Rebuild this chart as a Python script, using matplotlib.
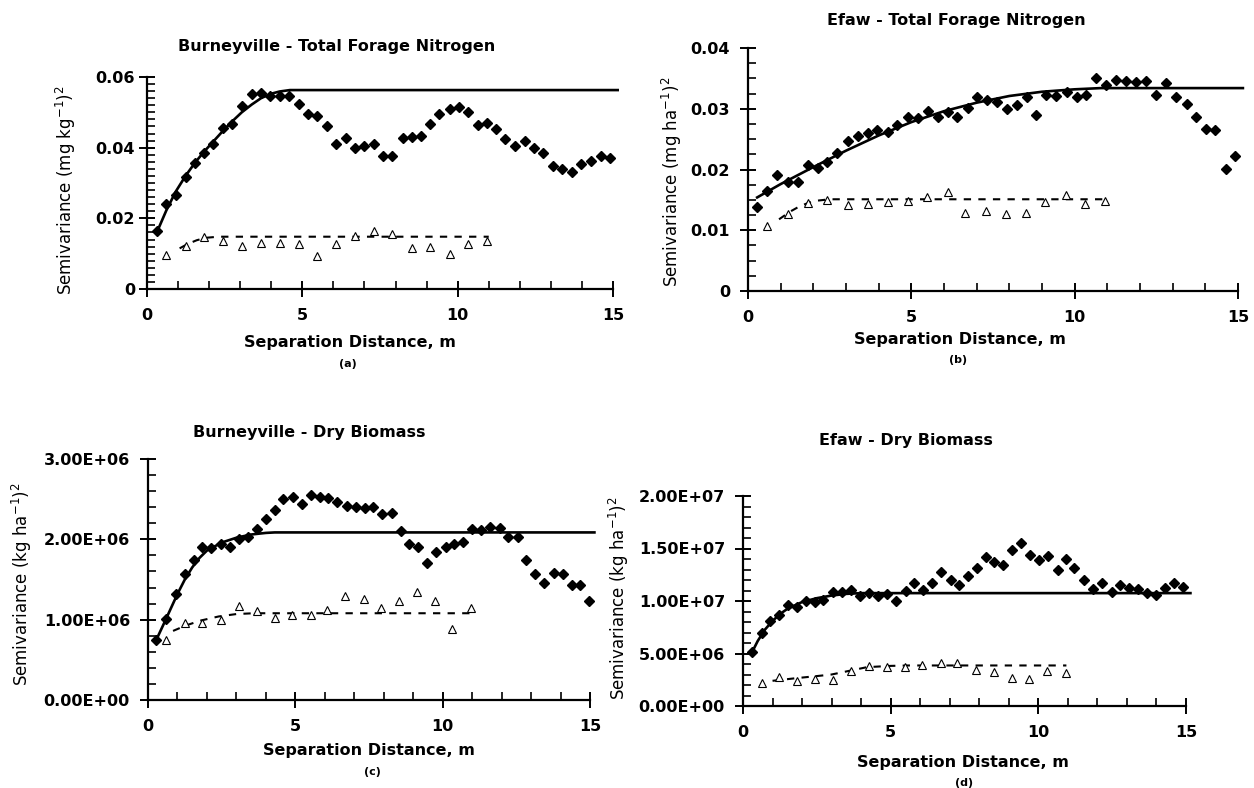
import matplotlib
matplotlib.use('Agg')
import matplotlib.pyplot as plt
import numpy as np
from matplotlib.ticker import MultipleLocator, FixedLocator, FormatStrFormatter, FuncFormatter

plt.rcParams['font.family'] = ['DejaVu Sans']
plt.rcParams['mathtext.fontset'] = 'dejavusans'

# ---- (a) Burneyville - Total Forage Nitrogen ----
a_lag = [0.33, 0.62, 0.92, 1.24, 1.55, 1.83, 2.14, 2.44, 2.75, 3.05, 3.37, 3.67, 3.97,
         4.27, 4.57, 4.89, 5.19, 5.48, 5.78, 6.09, 6.40, 6.68, 7.00, 7.31, 7.60, 7.89,
         8.23, 8.53, 8.82, 9.12, 9.41, 9.74, 10.03, 10.33, 10.64, 10.94, 11.23, 11.53,
         11.86, 12.16, 12.45, 12.75, 13.07, 13.37, 13.68, 13.98, 14.29, 14.60, 14.90]
a_semi = [0.0163, 0.0241, 0.0266, 0.0316, 0.0357, 0.0386, 0.0410, 0.0456, 0.0466, 0.0517,
          0.0551, 0.0554, 0.0546, 0.0547, 0.0547, 0.0524, 0.0494, 0.0489, 0.0462, 0.0409,
          0.0428, 0.0400, 0.0404, 0.0409, 0.0377, 0.0377, 0.0428, 0.0431, 0.0432, 0.0467,
          0.0495, 0.0510, 0.0515, 0.0502, 0.0465, 0.0469, 0.0453, 0.0424, 0.0406, 0.0420,
          0.0400, 0.0384, 0.0349, 0.0341, 0.0331, 0.0355, 0.0363, 0.0377, 0.0372]
a_tri_lag = [0.62, 1.24, 1.83, 2.44, 3.05, 3.67, 4.27, 4.89, 5.48, 6.09, 6.68, 7.31, 7.89,
             8.53, 9.12, 9.74, 10.33, 10.94]
a_tri = [0.0096, 0.0123, 0.0147, 0.0135, 0.0123, 0.0130, 0.0130, 0.0127, 0.0092, 0.0127,
         0.0151, 0.0165, 0.0155, 0.0115, 0.0120, 0.0098, 0.0126, 0.0135]
a_fit_x = [0.33, 0.62, 0.92, 1.24, 1.55, 1.83, 2.14, 2.44, 2.75, 3.05, 3.37, 3.67, 3.97,
           4.27, 4.6, 15.15]
a_fit_y = [0.0163, 0.0222, 0.0275, 0.0320, 0.0358, 0.0388, 0.0418, 0.0447, 0.0475, 0.0500,
           0.0522, 0.0540, 0.0552, 0.0559, 0.0563, 0.0563]
a_dash_x = [1.05, 1.3, 1.6, 1.9, 2.3, 11.0]
a_dash_y = [0.0115, 0.0127, 0.0138, 0.0145, 0.0148, 0.0148]

# ---- (b) Efaw - Total Forage Nitrogen ----
b_lag = [0.28, 0.57, 0.89, 1.22, 1.53, 1.83, 2.13, 2.43, 2.73, 3.05, 3.37, 3.66, 3.96,
         4.28, 4.57, 4.89, 5.19, 5.51, 5.81, 6.11, 6.41, 6.72, 7.01, 7.32, 7.63, 7.93,
         8.23, 8.53, 8.83, 9.13, 9.44, 9.76, 10.06, 10.36, 10.66, 10.96, 11.26, 11.58,
         11.88, 12.19, 12.49, 12.79, 13.09, 13.43, 13.72, 14.01, 14.31, 14.62, 14.92]
b_semi = [0.0139, 0.0164, 0.0191, 0.0180, 0.0179, 0.0207, 0.0202, 0.0212, 0.0227, 0.0247,
          0.0255, 0.0260, 0.0265, 0.0262, 0.0273, 0.0287, 0.0284, 0.0297, 0.0287, 0.0295,
          0.0287, 0.0301, 0.0319, 0.0315, 0.0311, 0.0300, 0.0306, 0.0319, 0.0290, 0.0322,
          0.0321, 0.0327, 0.0319, 0.0323, 0.0350, 0.0339, 0.0347, 0.0346, 0.0344, 0.0346,
          0.0323, 0.0342, 0.0319, 0.0307, 0.0287, 0.0267, 0.0265, 0.0201, 0.0222]
b_tri_lag = [0.57, 1.21, 1.83, 2.43, 3.05, 3.66, 4.28, 4.89, 5.48, 6.11, 6.65, 7.29, 7.90,
             8.50, 9.10, 9.72, 10.32, 10.92]
b_tri = [0.0107, 0.0126, 0.0145, 0.0150, 0.0141, 0.0144, 0.0146, 0.0148, 0.0154, 0.0163,
         0.0129, 0.0131, 0.0127, 0.0129, 0.0146, 0.0158, 0.0144, 0.0148]
b_fit_x = [0.28, 1.0, 2.0, 3.0, 4.0, 5.0, 6.0, 7.0, 8.0, 9.0, 10.0, 10.8, 15.15]
b_fit_y = [0.0154, 0.0176, 0.0204, 0.0231, 0.0256, 0.0278, 0.0296, 0.0310, 0.0321, 0.0328,
           0.0332, 0.0334, 0.0334]
b_dash_x = [0.95, 1.3, 1.6, 2.0, 2.5, 10.95]
b_dash_y = [0.0118, 0.0131, 0.0140, 0.0148, 0.0151, 0.0151]

# ---- (c) Burneyville - Dry Biomass (values in 1E+06) ----
c_lag = [0.28, 0.61, 0.94, 1.25, 1.57, 1.84, 2.15, 2.47, 2.77, 3.09, 3.40, 3.69, 4.02,
         4.31, 4.59, 4.92, 5.23, 5.52, 5.84, 6.12, 6.42, 6.74, 7.05, 7.36, 7.64, 7.95,
         8.27, 8.60, 8.85, 9.17, 9.47, 9.78, 10.10, 10.37, 10.69, 11.00, 11.30, 11.62,
         11.93, 12.22, 12.55, 12.84, 13.15, 13.45, 13.77, 14.08, 14.40, 14.67, 14.98]
c_semi_M = [0.747, 1.005, 1.314, 1.573, 1.748, 1.907, 1.894, 1.936, 1.907, 1.998, 2.032,
            2.124, 2.257, 2.365, 2.499, 2.532, 2.436, 2.553, 2.532, 2.511, 2.469, 2.415,
            2.407, 2.394, 2.407, 2.311, 2.324, 2.103, 1.940, 1.907, 1.710, 1.844, 1.907,
            1.936, 1.969, 2.132, 2.115, 2.157, 2.136, 2.032, 2.032, 1.748, 1.573, 1.456,
            1.586, 1.564, 1.435, 1.435, 1.227]
c_tri_lag = [0.61, 1.25, 1.84, 2.47, 3.09, 3.69, 4.30, 4.88, 5.52, 6.07, 6.70, 7.32, 7.91,
             8.53, 9.14, 9.74, 10.33, 10.97]
c_tri_M = [0.751, 0.955, 0.955, 0.997, 1.168, 1.106, 1.022, 1.060, 1.060, 1.122, 1.289,
           1.252, 1.147, 1.227, 1.343, 1.227, 0.884, 1.143]
c_fit_x = [0.28, 0.5, 0.75, 1.0, 1.25, 1.5, 1.75, 2.0, 2.5, 3.0, 3.5, 4.0, 4.3, 15.15]
c_fit_M = [0.747, 0.92, 1.12, 1.32, 1.50, 1.65, 1.77, 1.86, 1.96, 2.02, 2.06, 2.08, 2.086, 2.086]
c_dash_x = [0.85, 1.3, 1.8, 2.4, 3.0, 3.6, 10.95]
c_dash_M = [0.86, 0.93, 0.99, 1.04, 1.07, 1.08, 1.08]

# ---- (d) Efaw - Dry Biomass (values in 1E+06) ----
d_lag = [0.31, 0.64, 0.93, 1.21, 1.54, 1.83, 2.12, 2.44, 2.72, 3.04, 3.36, 3.67, 3.96,
         4.28, 4.58, 4.87, 5.19, 5.51, 5.79, 6.10, 6.39, 6.69, 7.03, 7.33, 7.61, 7.93,
         8.22, 8.51, 8.82, 9.12, 9.42, 9.72, 10.03, 10.33, 10.65, 10.94, 11.22, 11.55,
         11.86, 12.15, 12.48, 12.78, 13.07, 13.39, 13.69, 13.98, 14.29, 14.61, 14.89]
d_semi_M = [5.14, 6.97, 8.06, 8.67, 9.66, 9.47, 10.02, 9.92, 10.11, 10.85, 10.82, 11.08,
            10.43, 10.75, 10.43, 10.69, 9.98, 10.98, 11.69, 11.04, 11.69, 12.78, 12.04,
            11.52, 12.36, 13.10, 14.19, 13.68, 13.45, 14.86, 15.57, 14.41, 13.93, 14.32,
            13.00, 14.03, 13.19, 11.97, 11.11, 11.69, 10.88, 11.49, 11.20, 11.11, 10.75,
            10.53, 11.20, 11.72, 11.33]
d_tri_lag = [0.64, 1.21, 1.83, 2.44, 3.04, 3.67, 4.28, 4.87, 5.48, 6.07, 6.69, 7.26, 7.88,
             8.50, 9.10, 9.69, 10.29, 10.92]
d_tri_M = [2.18, 2.79, 2.41, 2.57, 2.47, 3.37, 3.82, 3.69, 3.69, 3.95, 4.08, 4.08, 3.43,
           3.21, 2.67, 2.54, 3.31, 3.18]
d_fit_x = [0.31, 0.5, 0.75, 1.0, 1.25, 1.5, 2.0, 2.5, 3.0, 3.5, 4.0, 15.15]
d_fit_M = [5.14, 6.2, 7.3, 8.1, 8.75, 9.25, 9.9, 10.27, 10.52, 10.68, 10.75, 10.75]
d_dash_x = [1.0, 1.8, 2.5, 3.0, 3.6, 4.2, 5.0, 5.6, 10.95]
d_dash_M = [2.4, 2.65, 2.85, 3.0, 3.35, 3.7, 3.82, 3.86, 3.86]

MEGA = 1e6

W, H = 1254, 788
fig = plt.figure(figsize=(W / 100, H / 100), dpi=100)


def make_axes(x0, x15, y0, ytop):
    # pixel positions of x=0, x=15, y=0 and y=top
    right = x0 + 15.2 * (x15 - x0) / 15.0
    return fig.add_axes([x0 / W, 1 - y0 / H, (right - x0) / W, (y0 - ytop) / H])


def style(ax, ymax, ymajor, yminor, yfmt, ypad):
    ax.set_xlim(0, 15.2)
    ax.set_ylim(0, ymax)
    for s in ['top', 'right']:
        ax.spines[s].set_visible(False)
    for s in ['left', 'bottom']:
        ax.spines[s].set_linewidth(1.6)
    ax.spines['bottom'].set_bounds(0, 15)
    ax.xaxis.set_major_locator(FixedLocator([0, 5, 10, 15]))
    ax.xaxis.set_minor_locator(MultipleLocator(1))
    ax.yaxis.set_major_locator(MultipleLocator(ymajor))
    ax.yaxis.set_minor_locator(MultipleLocator(yminor))
    ax.yaxis.set_major_formatter(yfmt)
    ax.tick_params(axis='both', which='major', direction='inout', length=11, width=1.4,
                   labelsize=11.5)
    ax.tick_params(axis='both', which='minor', direction='in', length=6, width=1.2)
    ax.tick_params(axis='x', which='major', pad=8)
    ax.tick_params(axis='y', which='major', pad=ypad)
    for lab in ax.get_xticklabels() + ax.get_yticklabels():
        lab.set_fontweight('bold')
    ax.patch.set_visible(False)


def draw(ax, lag, semi, tlag, tri, fx, fy, dx, dy):
    ax.plot(fx, fy, color='black', lw=1.9, clip_on=False, zorder=2)
    ax.plot(dx, dy, color='black', lw=1.5, linestyle=(0, (3.5, 3.5)), zorder=2)
    ax.plot(lag, semi, linestyle='none', marker='D', ms=4.6, color='black', zorder=3)
    ax.plot(tlag, tri, linestyle='none', marker='^', ms=6.2, mfc='white', mec='black',
            mew=0.8, zorder=3)


def num_fmt(v, pos):
    return '0' if v == 0 else '%.2f' % v


ax_a = make_axes(147, 613, 289, 77)
style(ax_a, 0.06, 0.02, 0.002, FuncFormatter(num_fmt), 3)
draw(ax_a, a_lag, a_semi, a_tri_lag, a_tri, a_fit_x, a_fit_y, a_dash_x, a_dash_y)

ax_b = make_axes(748, 1238, 291, 48)
style(ax_b, 0.04, 0.01, 0.0025, FuncFormatter(num_fmt), 7.5)
draw(ax_b, b_lag, b_semi, b_tri_lag, b_tri, b_fit_x, b_fit_y, b_dash_x, b_dash_y)

ax_c = make_axes(148, 590, 700, 459)
style(ax_c, 3e6, 1e6, 2e5, FormatStrFormatter('%.2E'), 7.5)
draw(ax_c, c_lag, np.array(c_semi_M) * MEGA, c_tri_lag, np.array(c_tri_M) * MEGA,
     c_fit_x, np.array(c_fit_M) * MEGA, c_dash_x, np.array(c_dash_M) * MEGA)

ax_d = make_axes(743, 1186, 706, 496)
style(ax_d, 2e7, 5e6, 1e6, FormatStrFormatter('%.2E'), 7.5)
draw(ax_d, d_lag, np.array(d_semi_M) * MEGA, d_tri_lag, np.array(d_tri_M) * MEGA,
     d_fit_x, np.array(d_fit_M) * MEGA, d_dash_x, np.array(d_dash_M) * MEGA)


def ftext(x, y, s, **kw):
    fig.text(x / W, 1 - y / H, s, ha='center', va='center', **kw)


# titles
ftext(337, 47, 'Burneyville - Total Forage Nitrogen', fontsize=11.5, fontweight='bold')
ftext(956, 21, 'Efaw - Total Forage Nitrogen', fontsize=11.5, fontweight='bold')
ftext(309, 432, 'Burneyville - Dry Biomass', fontsize=11.5, fontweight='bold')
ftext(906, 440, 'Efaw - Dry Biomass', fontsize=11.5, fontweight='bold')

# x labels and panel letters
for (x, y, px, py, letter) in [(350, 343, 348, 364, '(a)'), (960, 339, 958, 360, '(b)'),
                               (369, 750, 372, 772, '(c)'), (963, 762, 964, 783, '(d)')]:
    ftext(x, y, 'Separation Distance, m', fontsize=11.5, fontweight='bold')
    ftext(px, py, letter, fontsize=8, fontweight='bold')

# y labels
ylab_kw = dict(fontsize=12, rotation=90)
ftext(66, 190, 'Semivariance (mg kg$^{-1}$)$^{2}$', **ylab_kw)
ftext(672, 182, 'Semivariance (mg ha$^{-1}$)$^{2}$', **ylab_kw)
ftext(22, 584, 'Semivariance (kg ha$^{-1}$)$^{2}$', **ylab_kw)
ftext(619, 598, 'Semivariance (kg ha$^{-1}$)$^{2}$', **ylab_kw)

fig.savefig('out.png', dpi=100, facecolor='white')
